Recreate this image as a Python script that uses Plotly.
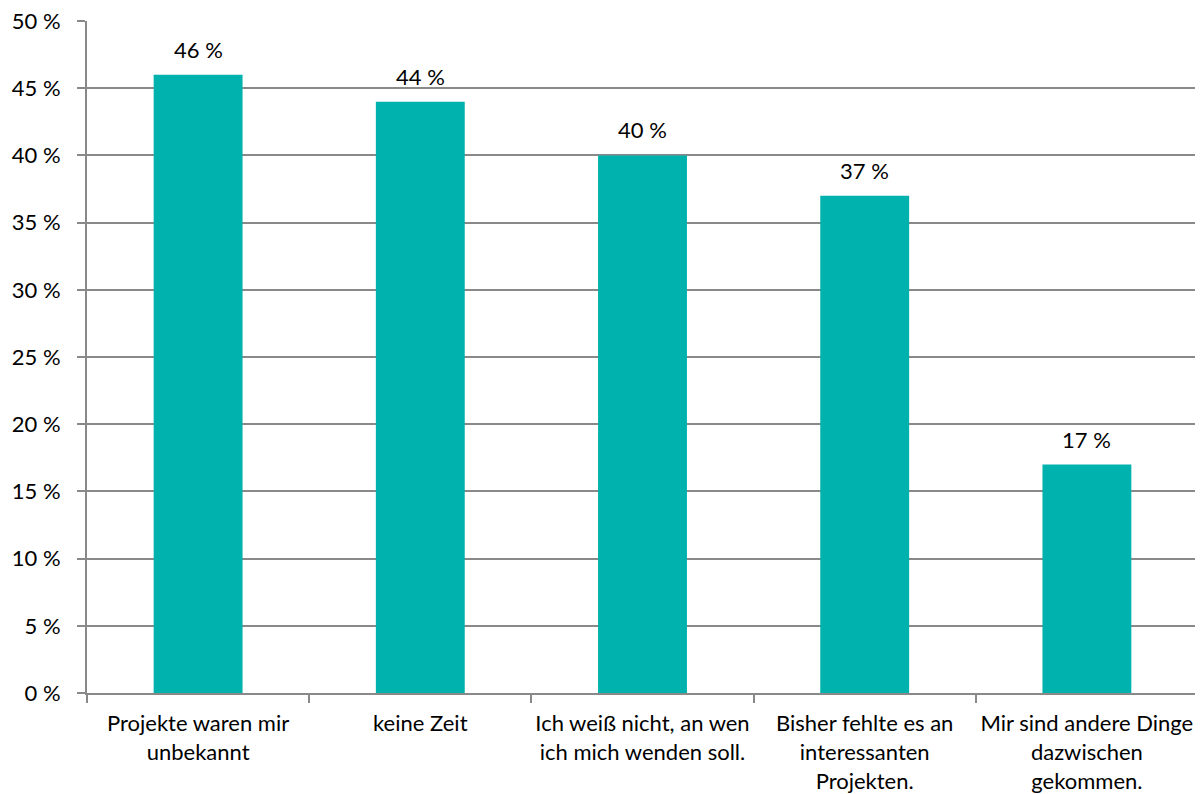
import plotly.graph_objects as go

categories = [
    "Projekte waren mir<br>unbekannt",
    "keine Zeit",
    "Ich weiß nicht, an wen<br>ich mich wenden soll.",
    "Bisher fehlte es an<br>interessanten<br>Projekten.",
    "Mir sind andere Dinge<br>dazwischen<br>gekommen.",
]
values = [46, 44, 40, 37, 17]
y_ticks = [0, 5, 10, 15, 20, 25, 30, 35, 40, 45, 50]

bar_color = "#00B2AD"
grid_color = "#898989"
font_family = "Lato, 'Open Sans', sans-serif"

fig = go.Figure()
fig.add_trace(go.Bar(
    x=categories,
    y=values,
    marker=dict(color=bar_color, line=dict(width=0)),
    width=0.4,
    hoverinfo="skip",
))

for c, v in zip(categories, values):
    fig.add_annotation(
        x=c, y=v, text=f"{v} %", showarrow=False,
        yanchor="bottom", yshift=10,
        font=dict(family=font_family, size=22, color="#000000"),
    )

fig.update_layout(
    width=1203, height=794,
    margin=dict(l=79, r=13, t=13, b=109),
    paper_bgcolor="white",
    plot_bgcolor="white",
    showlegend=False,
    font=dict(family=font_family, size=22, color="#000000"),
    bargap=0.6,
)
fig.update_xaxes(
    type="category",
    tickson="boundaries",
    tickangle=0,
    automargin=False,
    ticks="outside", ticklen=8, tickwidth=2, tickcolor=grid_color,
    showline=True, linecolor=grid_color, linewidth=2,
    showgrid=False,
    ticklabelstandoff=10,
    tickfont=dict(family=font_family, size=22, color="#000000"),
)
fig.update_yaxes(
    range=[0, 50],
    tickvals=y_ticks,
    ticktext=[f"{t} %" for t in y_ticks],
    automargin=False,
    ticklabeloverflow="allow",
    ticks="outside", ticklen=8, tickwidth=2, tickcolor=grid_color,
    showline=True, linecolor=grid_color, linewidth=2,
    showgrid=True, gridcolor=grid_color, gridwidth=2,
    zeroline=False,
    ticklabelstandoff=12,
    tickfont=dict(family=font_family, size=22, color="#000000"),
)

fig.write_html("out.html")
